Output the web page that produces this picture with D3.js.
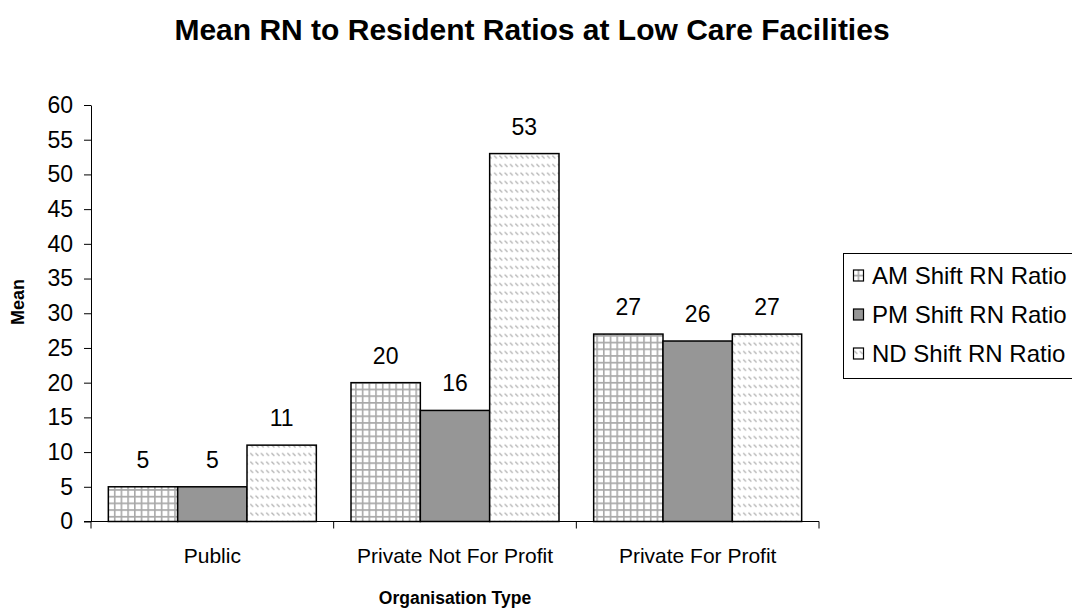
<!DOCTYPE html>
<html><head><meta charset="utf-8">
<script src="https://cdnjs.cloudflare.com/ajax/libs/d3/7.8.5/d3.min.js"></script>
<style>body{margin:0;background:#fff}svg{display:block;font-family:"Liberation Sans",Arial,sans-serif}</style>
</head><body><svg id="c" width="1072" height="612"></svg>
<script>
const categories = ["Public", "Private Not For Profit", "Private For Profit"];
const seriesNames = ["AM Shift RN Ratio", "PM Shift RN Ratio", "ND Shift RN Ratio"];
const amValues = [5, 20, 27];
const pmValues = [5, 16, 26];
const ndValues = [11, 53, 27];
const yTicks = [0,5,10,15,20,25,30,35,40,45,50,55,60];

const FF = "Liberation Sans, Arial, sans-serif";
const svg = d3.select("#c");
const defs = svg.append("defs");
// grid pattern
const pg = defs.append("pattern").attr("id","grid").attr("patternUnits","userSpaceOnUse").attr("width",6.7).attr("height",6.7);
pg.append("rect").attr("width",6.7).attr("height",6.7).attr("fill","#fff");
pg.append("path").attr("d","M0,0.8H6.7M0.8,0V6.7").attr("stroke","#a8a8a8").attr("stroke-width",1.6);
// dashed diagonal pattern
const pd = defs.append("pattern").attr("id","diag").attr("patternUnits","userSpaceOnUse").attr("width",5.3).attr("height",8.5);
pd.append("rect").attr("width",5.3).attr("height",8.5).attr("fill","#fff");
pd.append("path").attr("d","M1.2,2.7L4,5.5").attr("stroke","#b4b4b4").attr("stroke-width",1.3);
const fills = ["url(#grid)", "#969696", "url(#diag)"];

const x0 = 91, x1 = 819, yb = 521.5, yt = 105;
const x = d3.scaleBand().domain(categories).range([x0, x1]).paddingInner(0).paddingOuter(0);
const xs = d3.scaleBand().domain(seriesNames).range([0, x.bandwidth()]).paddingOuter(0.25).paddingInner(0);
const y = d3.scaleLinear().domain([0,60]).range([yb, yt]);

const data = [amValues, pmValues, ndValues];

// title
svg.append("text").attr("x",532).attr("y",40).attr("text-anchor","middle")
  .attr("font-size",30).attr("font-weight","bold").text("Mean RN to Resident Ratios at Low Care Facilities");

// y axis
const ya = svg.append("g").attr("transform",`translate(${x0},0)`)
  .call(d3.axisLeft(y).tickValues(yTicks).tickSize(7).tickPadding(11).tickSizeOuter(0));
ya.select(".domain").attr("stroke","#000").attr("stroke-width",1);
ya.selectAll("text").attr("font-size",23).attr("fill","#000").attr("font-family",FF);

// bars
categories.forEach((c,ci)=>{
  seriesNames.forEach((s,si)=>{
    const v = data[si][ci];
    svg.append("rect").attr("x",x(c)+xs(s)).attr("y",y(v)).attr("width",xs.bandwidth()).attr("height",yb-y(v))
      .attr("fill",fills[si]).attr("stroke","#000").attr("stroke-width",1.5);
    svg.append("text").attr("x",x(c)+xs(s)+xs.bandwidth()/2).attr("y",y(v)-19).attr("text-anchor","middle")
      .attr("font-size",23).text(v);
  });
});

// x axis
const xa = svg.append("g").attr("transform",`translate(0,${yb})`)
  .call(d3.axisBottom(x).tickSize(0).tickPadding(27));
xa.select(".domain").remove();
svg.append("line").attr("x1",x0-7).attr("x2",x1).attr("y1",yb).attr("y2",yb).attr("stroke","#000");
[x0, ...categories.map(c=>x(c)+x.bandwidth())].forEach(px=>{
  svg.append("line").attr("x1",px).attr("x2",px).attr("y1",yb).attr("y2",yb+7).attr("stroke","#000");
});
xa.selectAll("text").attr("font-size",21).attr("fill","#000").attr("font-family",FF);

// axis titles
svg.append("text").attr("x",455).attr("y",604).attr("text-anchor","middle").attr("font-size",17.5).attr("font-weight","bold").text("Organisation Type");
svg.append("text").attr("transform","translate(24,302) rotate(-90)").attr("text-anchor","middle").attr("font-size",18).attr("font-weight","bold").text("Mean");

// legend
const lg = svg.append("g");
lg.append("rect").attr("x",843.5).attr("y",253.5).attr("width",240).attr("height",125).attr("fill","#fff").attr("stroke","#000");
seriesNames.forEach((s,i)=>{
  const cy = 275.5 + i*39;
  lg.append("rect").attr("x",853.5).attr("y",cy-5.5).attr("width",10).attr("height",11).attr("fill",fills[i]).attr("stroke","#000").attr("stroke-width",1.2);
  lg.append("text").attr("x",872).attr("y",cy+8).attr("font-size",24).text(s);
});
</script></body></html>
